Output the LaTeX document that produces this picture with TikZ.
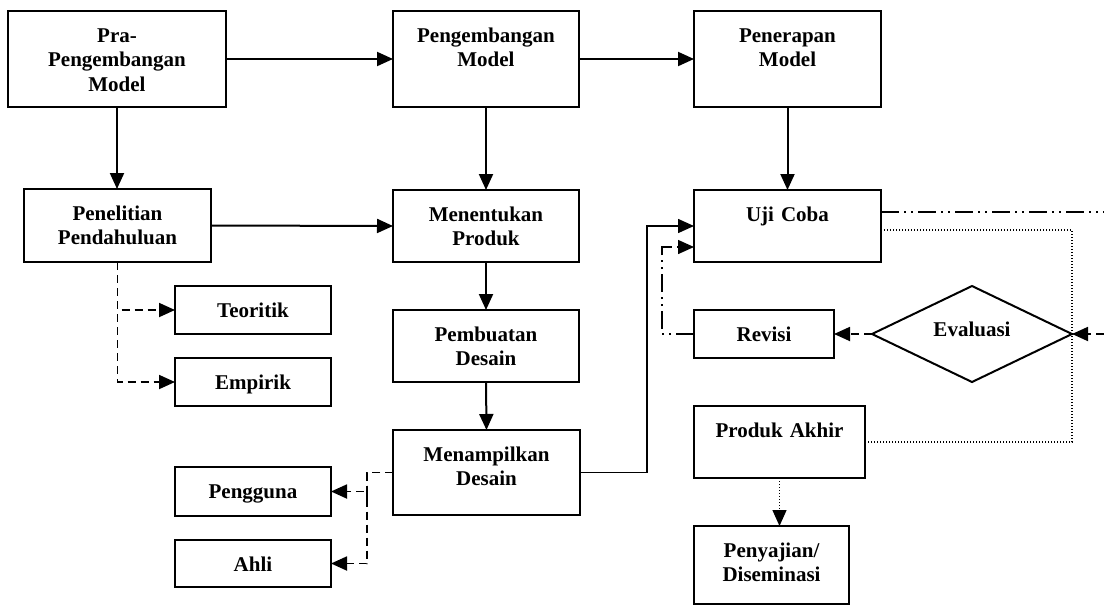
\documentclass[tikz,border=0pt]{standalone}
\usepackage{fontspec}
\setmainfont{Liberation Serif}
\usetikzlibrary{arrows.meta,shapes.geometric}
\begin{document}
\begin{tikzpicture}[x=1pt,y=-1pt,line join=miter,>={Triangle[length=16pt,width=14pt]},
		font=\bfseries\fontsize{21}{24.5}\selectfont]
	\tikzset{kotak/.style 2 args={draw,line width=2pt,inner sep=0pt,outer sep=0pt,anchor=north west,
			align=center,text width=#1,text height=31pt,text depth=#2}}
	\tikzset{garis/.style={line width=2pt}}
	\tikzset{putus/.style={line width=1.8pt,dash pattern=on 8pt off 5pt}}
	\tikzset{titikgaris/.style={line width=1.5pt,dash pattern=on 18pt off 5pt on 2pt off 5pt on 2pt off 5pt}}
	\tikzset{titik/.style={line width=1.4pt,dash pattern=on 1.4pt off 1.6pt}}
	\useasboundingbox (0,0) rectangle (1104,606);
	% baris atas
	\node[kotak={218pt}{65pt}] (pra) at (8,11) {Pra-\\Pengembangan\\Model};
	\node[kotak={186pt}{65pt}] (pengembangan) at (393,11) {Pengembangan\\Model};
	\node[kotak={187pt}{65pt}] (penerapan) at (694,11) {Penerapan\\Model};
	% baris kedua
	\node[kotak={187pt}{42pt}] (penelitian) at (24,189) {Penelitian\\Pendahuluan};
	\node[kotak={186pt}{41pt}] (menentukan) at (393,190) {Menentukan\\Produk};
	\node[kotak={187pt}{41pt}] (ujicoba) at (694,190) {Uji Coba};
	\node[kotak={156pt}{17pt}] (teoritik) at (175,286) {Teoritik};
	\node[kotak={156pt}{17pt}] (empirik) at (175,358) {Empirik};
	\node[kotak={186pt}{41pt}] (pembuatan) at (393,310) {Pembuatan\\Desain};
	\node[kotak={187pt}{54pt}] (menampilkan) at (393,430) {Menampilkan\\Desain};
	\node[kotak={156pt}{18pt}] (pengguna) at (175,467) {Pengguna};
	\node[kotak={156pt}{16pt}] (ahli) at (175,540) {Ahli};
	\node[kotak={140pt}{17pt}] (revisi) at (694,310) {Revisi};
	\node[draw,diamond,aspect=2.08,minimum width=200pt,minimum height=96pt,inner sep=0pt,outer sep=0pt,
		line width=2pt,text height=14pt,text depth=10pt] (evaluasi) at (972,334) {Evaluasi};
	\node[kotak={171pt}{41pt}] (produk) at (694,406) {Produk Akhir};
	\node[kotak={155pt}{47pt}] (penyajian) at (694,526) {Penyajian/\\Diseminasi};
	% titik bantu
	\coordinate (jalur) at (647,350);
	\coordinate (balik) at (662,290);
	\coordinate (masuk) at (694,247);
	\coordinate (simpang) at (367,500);
	\coordinate (tepiatas) at (1104,212);
	\coordinate (tepibawah) at (1104,334);
	\coordinate (sudut) at (1072,230);
	% panah utama
	\draw[garis,->] (pra.east) -- (pengembangan.west);
	\draw[garis,->] (pengembangan.east) -- (penerapan.west);
	\draw[garis,->] (pra.south) -- (pra.south |- penelitian.north);
	\draw[garis,->] (pengembangan.south) -- (menentukan.north);
	\draw[garis,->] (penerapan.south) -- (ujicoba.north);
	\draw[garis,->] (penelitian.east) -- (menentukan.west);
	\draw[garis,->] (menentukan.south) -- (pembuatan.north);
	\draw[garis,->] (pembuatan.south) -- (menampilkan.north);
	\draw[line width=1.6pt,->] (menampilkan.east) -| (jalur) |- (ujicoba.west);
	% cabang putus-putus
	\draw[putus,->] (penelitian.south) |- (teoritik.west);
	\draw[putus,->] (penelitian.south) |- (empirik.west);
	\draw[putus,->] (menampilkan.west) -| (simpang) |- (pengguna.east);
	\draw[putus,->] (menampilkan.west) -| (simpang) |- (ahli.east);
	% siklus uji coba
	\draw[titikgaris,->] (revisi.west) -| (balik) |- (masuk);
	\draw[putus,->] (evaluasi.west) -- (revisi.east);
	\draw[putus,->] (tepibawah) -- (evaluasi.east);
	\draw[titikgaris] (ujicoba.east |- tepiatas) -- (tepiatas);
	\draw[titik] (ujicoba.east |- sudut) -- (sudut) |- (produk.east);
	\draw[titik,->] (produk.south) -- (produk.south |- penyajian.north);
\end{tikzpicture}
\end{document}
